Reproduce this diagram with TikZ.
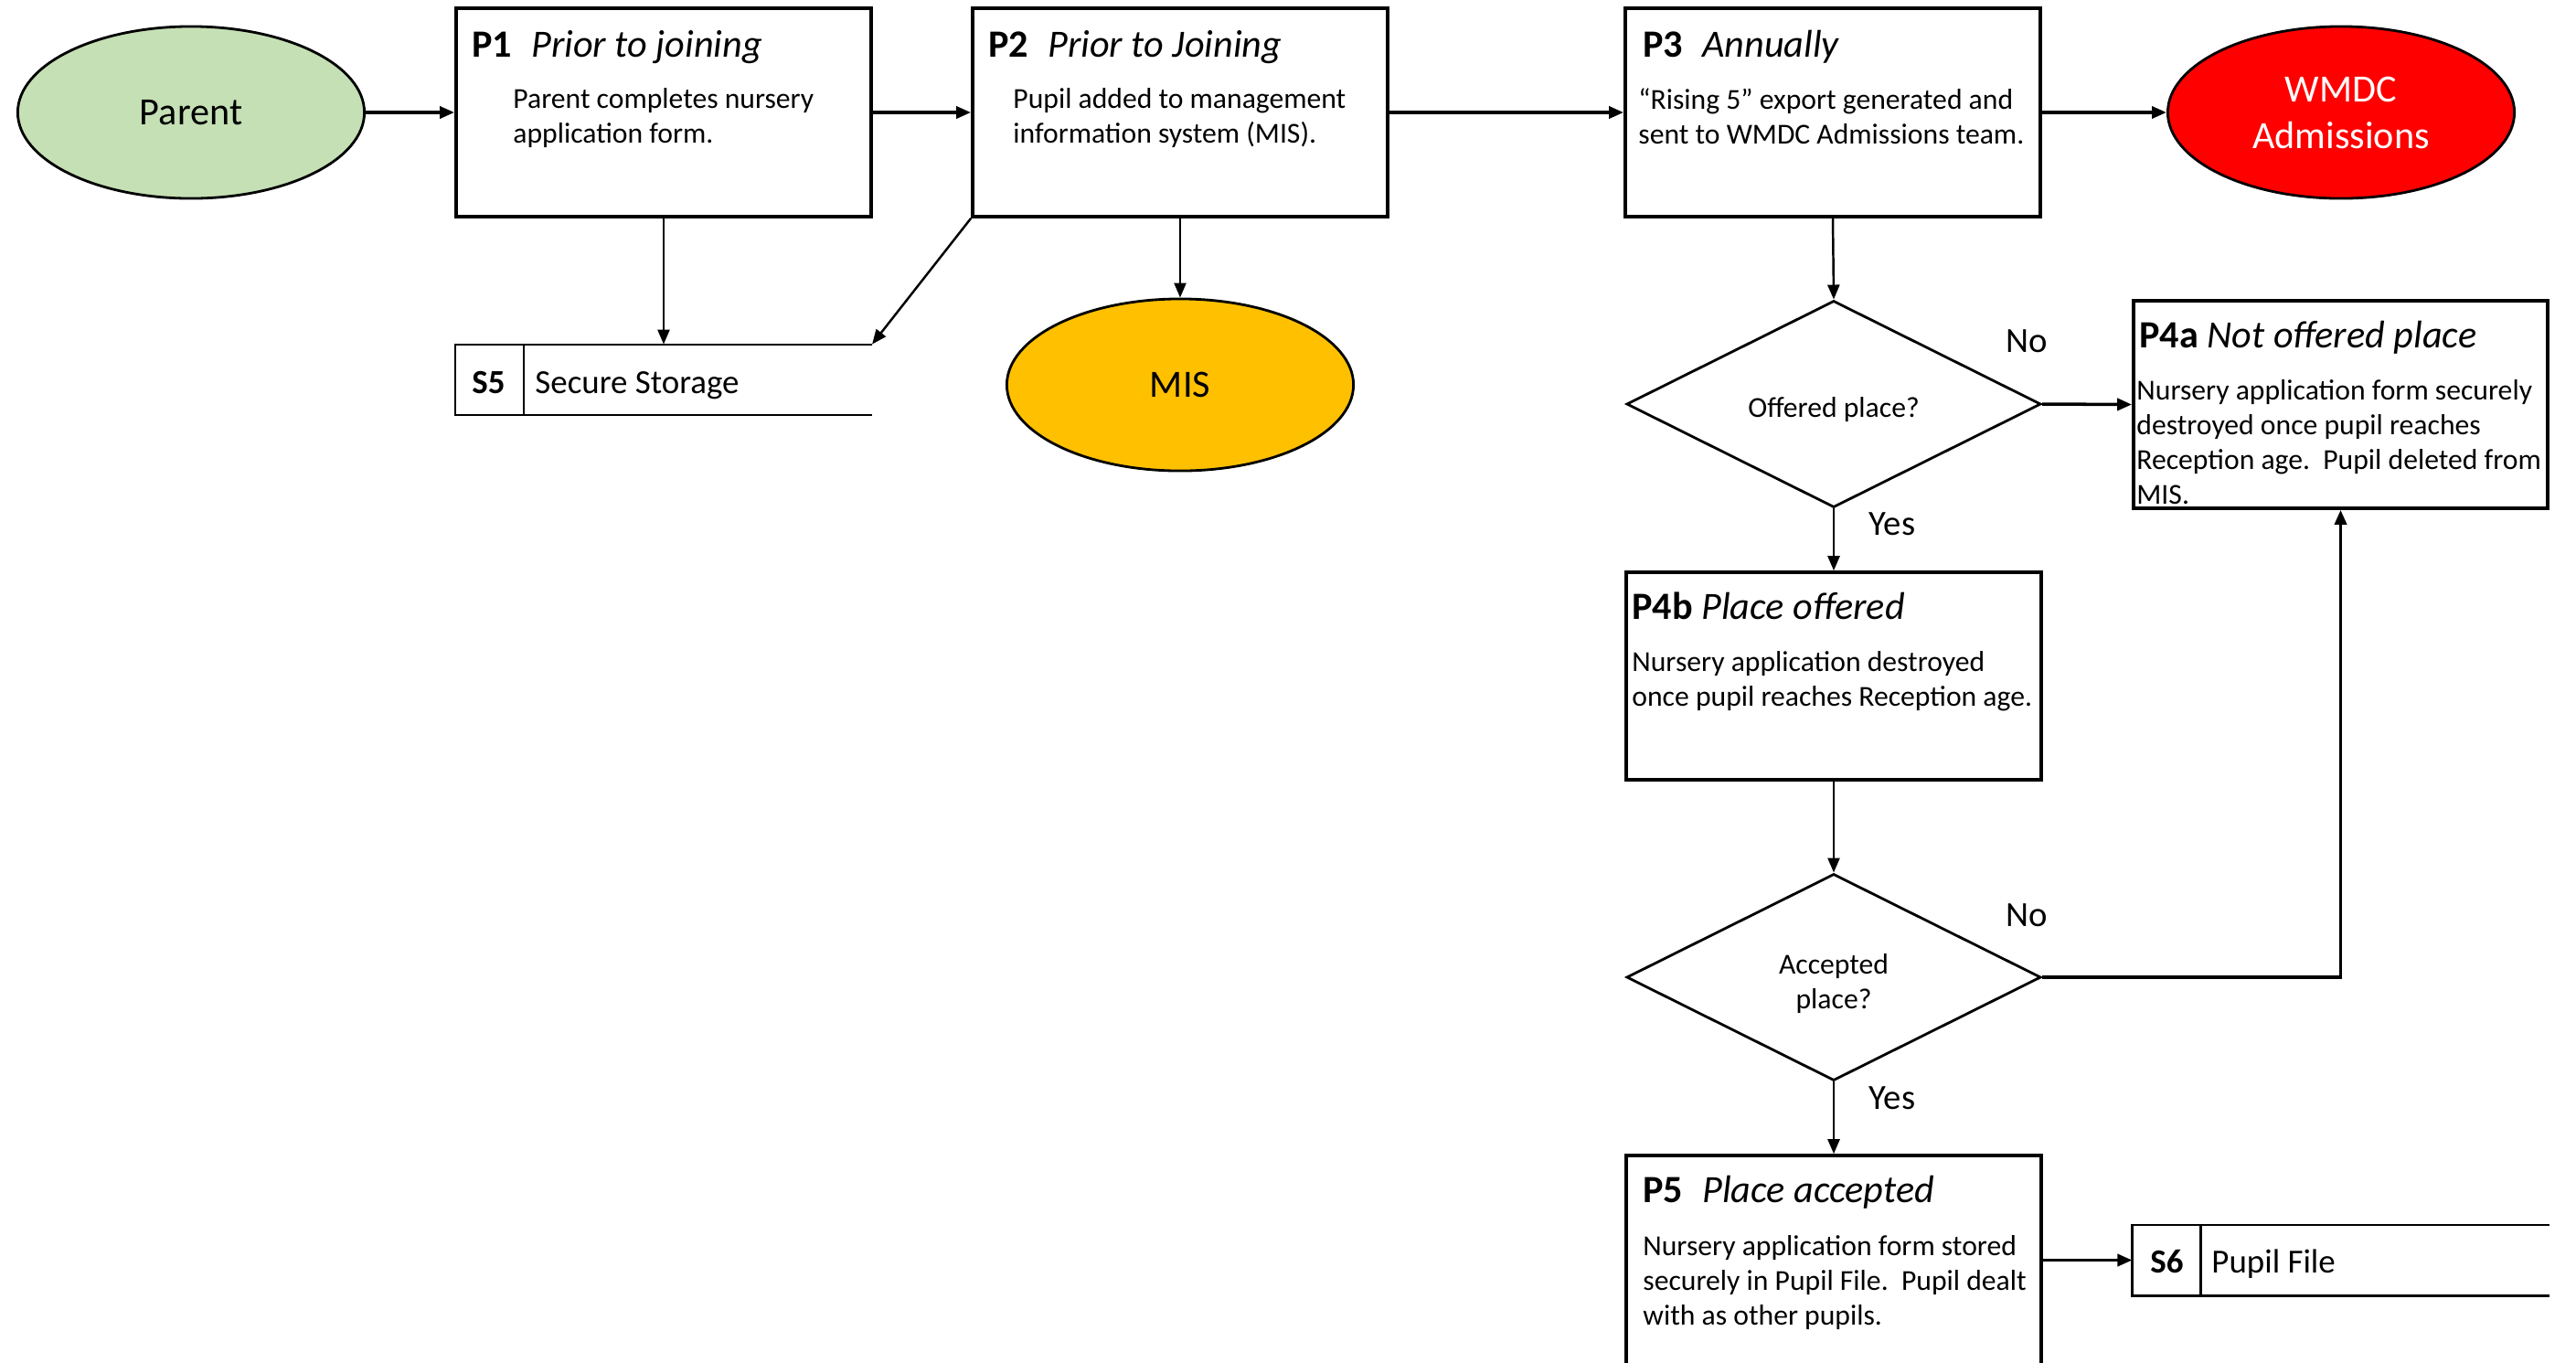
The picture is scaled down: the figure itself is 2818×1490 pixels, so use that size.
\documentclass[tikz,border=0pt]{standalone}
\usepackage{fontspec}
\setmainfont{Carlito}
\usetikzlibrary{arrows.meta,shapes.geometric}

\definecolor{parentgreen}{HTML}{C5E0B4}
\definecolor{misyellow}{HTML}{FFC000}
\definecolor{wmdcred}{HTML}{FF0000}

\begin{document}
\begin{tikzpicture}[x=0.01cm,y=-0.01cm,line width=0.8pt,>={Triangle[length=1.6mm,width=1.3mm]},
  proc/.style={draw,line width=1pt,minimum width=4.54cm,minimum height=2.28cm,inner sep=0},
  ent/.style={draw,ellipse,line width=0.8pt,minimum width=3.79cm,minimum height=1.88cm,font=\fontsize{12}{14.5}\selectfont},
  dec/.style={draw,diamond,line width=0.8pt,minimum width=4.53cm,minimum height=2.26cm,inner sep=0},
  dtext/.style={inner sep=0,align=center,font=\fontsize{9}{11}\selectfont},
  ptitle/.style={anchor=base west,inner sep=0,font=\fontsize{12}{14}\selectfont},
  pbody/.style={anchor=north west,inner sep=0,align=left,font=\fontsize{9}{10.8}\selectfont},
  store/.style={minimum width=4.53cm,minimum height=0.75cm,inner sep=0},
  stext/.style={anchor=base west,inner sep=0,font=\fontsize{10.5}{12}\selectfont},
  yn/.style={inner sep=0,font=\fontsize{11}{13}\selectfont},
  flow/.style={->,line width=1pt},
  drop/.style={->,line width=0.7pt}]
\useasboundingbox (0,0) rectangle (2818,1490);
\clip (0,0) rectangle (2818,1490);
% ---------- top row ----------
\node[ent,fill=parentgreen] (parent) at (209,123) {Parent};
\node[proc] (p1) at (726,123) {};
\node[proc] (p2) at (1291,123) {};
\node[proc] (p3) at (2005,123) {};
\node[ent,fill=wmdcred,text=white,align=center] (wmdc) at (2561,123) {WMDC\\Admissions};
\node[ptitle] (p1t) at (515,62) {\textbf{P1}\hspace{0.5em}\textit{Prior to joining}};
\node[pbody] (p1b) at (560,95) {Parent completes nursery\\application form.};
\node[ptitle] (p2t) at (1080,62) {\textbf{P2}\hspace{0.5em}\textit{Prior to Joining}};
\node[pbody] (p2b) at (1107,95) {Pupil added to management\\information system (MIS).};
\node[ptitle] (p3t) at (1796,62) {\textbf{P3}\hspace{0.5em}\textit{Annually}};
\node[pbody] (p3b) at (1791,95) {“Rising 5” export generated and\\sent to WMDC Admissions team.};
% ---------- stores and MIS ----------
\node[store] (s5) at (726,415.5) {};
\draw[line width=0.6pt] (s5.north east) -- (s5.north west) -- (s5.south west) -- (s5.south east);
\draw[line width=0.6pt] ([xshift=0.75cm]s5.north west) -- ([xshift=0.75cm]s5.south west);
\node[stext] (s5n) at (515,430) {\textbf{S5}};
\node[stext] (s5t) at (584,430) {Secure Storage};
\node[ent,fill=misyellow] (mis) at (1291,421) {MIS};
% ---------- decisions ----------
\node[dec] (d1) at (2006,442) {};
\node[dtext] (d1t) at (2006,448) {Offered place?};
\node[proc,minimum width=4.53cm,minimum height=2.27cm] (p4a) at (2560.5,442.5) {};
\node[ptitle] (p4at) at (2339,380) {\textbf{P4a} \textit{Not offered place}};
\node[pbody] (p4ab) at (2336,414) {Nursery application form securely\\destroyed once pupil reaches\\Reception age.\ \ Pupil deleted from\\MIS.};
\node[proc,minimum height=2.27cm] (p4b) at (2006,739.5) {};
\node[ptitle] (p4bt) at (1784,677) {\textbf{P4b} \textit{Place offered}};
\node[pbody] (p4bb) at (1784,711) {Nursery application destroyed\\once pupil reaches Reception age.};
\node[dec] (d2) at (2006,1069) {};
\node[dtext] (d2t) at (2006,1076) {Accepted\\place?};
\node[proc,minimum height=2.5cm] (p5) at (2006,1389) {};
\node[ptitle] (p5t) at (1796,1315) {\textbf{P5}\hspace{0.5em}\textit{Place accepted}};
\node[pbody] (p5b) at (1796,1350) {Nursery application form stored\\securely in Pupil File.\ \ Pupil dealt\\with as other pupils.};
\node[store] (s6) at (2560.5,1378.5) {};
\draw[line width=0.6pt] (s6.north east) -- (s6.north west) -- (s6.south west) -- (s6.south east);
\draw[line width=0.6pt] ([xshift=0.75cm]s6.north west) -- ([xshift=0.75cm]s6.south west);
\node[stext] (s6n) at (2351,1392) {\textbf{S6}};
\node[stext] (s6t) at (2418,1392) {Pupil File};
% ---------- connectors ----------
\draw[flow] (parent.east) -- (p1.west);
\draw[flow] (p1.east) -- (p2.west);
\draw[flow] (p2.east) -- (p3.west);
\draw[flow] (p3.east) -- (wmdc.west);
\draw[drop] (p1.south) -- (s5.north);
\draw[drop] (p2.south west) -- (s5.north east);
\draw[drop] (p2.south) -- (mis.north);
\draw[drop] (p3.south) -- (d1.north);
\draw[flow] (d1.east) -- (p4a.west);
\draw[drop] (d1.south) -- (p4b.north);
\draw[drop] (p4b.south) -- (d2.north);
\draw[flow] (d2.east) -| (p4a.south);
\draw[drop] (d2.south) -- (p5.north);
\draw[flow] (p5.east |- s6.west) -- (s6.west);
\node[yn] (no1) at (2217,373) {No};
\node[yn] (yes1) at (2070,573) {Yes};
\node[yn] (no2) at (2217,1001) {No};
\node[yn] (yes2) at (2070,1201) {Yes};
\end{tikzpicture}
\end{document}
